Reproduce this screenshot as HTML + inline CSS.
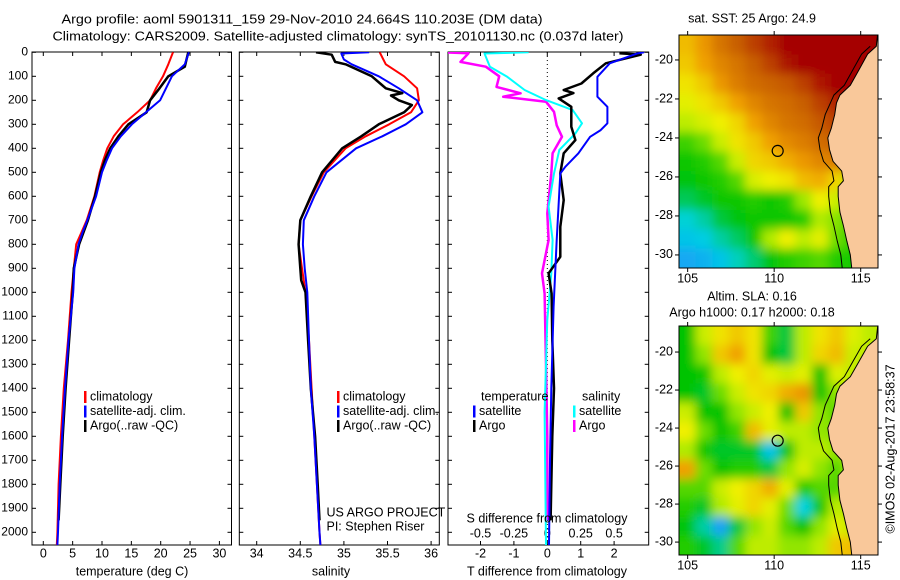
<!DOCTYPE html>
<html><head><meta charset="utf-8">
<style>
html,body{margin:0;padding:0;background:#fff;}
svg{display:block;font-family:"Liberation Sans",Arial,sans-serif;}
text{fill:#000;}
</style></head>
<body>
<svg id="fig" width="900" height="580" viewBox="0 0 900 580" xmlns="http://www.w3.org/2000/svg">
<defs>
<clipPath id="clipP1"><rect x="32" y="52" width="200" height="493"/></clipPath>
<clipPath id="clipP2"><rect x="239" y="52" width="200" height="493"/></clipPath>
<clipPath id="clipP3"><rect x="448" y="52" width="201" height="493"/></clipPath>
<clipPath id="clipM1"><rect x="679" y="35" width="199" height="233"/></clipPath>
<clipPath id="clipM2"><rect x="679" y="326" width="199" height="229"/></clipPath>
<filter id="blur" x="-10%" y="-10%" width="120%" height="120%"><feGaussianBlur stdDeviation="5"/></filter>
</defs>
<g id="root"></g>
</svg>
<script>
// ---------- profile data ----------
const tempDepthClim = [0,50,100,150,200,250,300,350,400,450,500,600,700,750,800,900,1000,1200,1400,1600,1800,2000,2053];
const tempClim      = [22.1,21.3,20.4,19.2,18.2,16,13.6,12,10.9,10.2,9.6,8.7,7.4,6.5,5.6,5.2,4.8,4.2,3.5,3.0,2.6,2.4,2.3];
const tempDepthSat  = [0,50,100,150,200,250,300,350,400,450,500,600,700,750,800,900,1000,1200,1400,1600,1800,2000,2053];
const tempSat       = [24.8,24.1,21.9,20.9,19.9,17.5,15.1,13.2,11.7,10.8,10,9,7.5,6.7,6,5.3,5.1,4.3,3.7,3.2,2.8,2.5,2.4];
const tempDepthArgo = [0,30,60,100,150,200,250,300,350,400,450,500,600,700,800,900,1000,1200,1400,1600,1800,1950];
const tempArgo      = [24.7,24.4,24.1,21.3,19.8,18.2,17.6,14.5,12.8,11.4,10.5,9.8,8.8,7.6,6.1,5.2,5.0,4.4,3.8,3.3,2.9,2.6];

const salDepthClim = [0,50,100,150,200,250,300,350,400,500,600,700,800,900,1000,1200,1400,1600,1800,2000,2053];
const salClim      = [35.41,35.48,35.69,35.84,35.86,35.77,35.52,35.25,35.02,34.77,34.63,34.5,34.48,34.52,34.56,34.6,34.63,34.66,34.69,34.72,34.73];
const salDepthSat  = [0,5,30,50,100,150,200,250,300,350,400,500,600,700,800,900,1000,1200,1400,1600,1800,2000,2053];
const salSat       = [35.29,34.97,35.0,35.09,35.4,35.63,35.84,35.9,35.71,35.44,35.14,34.8,34.66,34.54,34.53,34.55,34.58,34.6,34.62,34.66,34.69,34.72,34.73];
const salDepthArgo = [0,10,40,50,100,150,170,180,200,220,250,300,350,400,500,600,700,800,900,950,1000,1200,1400,1600,1800,1950];
const salArgo      = [34.68,34.86,34.9,35.02,35.32,35.48,35.67,35.54,35.63,35.78,35.69,35.4,35.2,34.98,34.75,34.62,34.5,34.48,34.5,34.51,34.56,34.59,34.62,34.67,34.7,34.72];

const dDepthTSat = [0,5,46,102,185,227,296,324,352,421,477,505,782,1060,1400,1700,2053];
const dTSat      = [2.9,2.69,1.87,1.5,1.5,1.8,1.8,1.6,1.28,0.93,0.54,0.39,0.28,0.19,0.12,0.08,0.05];
const dDepthTArgo = [4,10,46,88,130,157,170,192,227,310,366,421,505,616,727,852,921,1005,1200,1400,1600,1800,1950];
const dTArgo      = [2.16,2.8,1.75,1.37,1.02,0.49,0.78,0.34,0.72,0.72,0.84,0.49,0.39,0.49,0.39,0.39,0.04,0.13,0.15,0.2,0.15,0.12,0.1];
const dDepthSSat = [0,5,60,102,157,199,241,296,338,407,505,643,782,921,1115,1500,2053];
const dSSat      = [-0.14,-0.47,-0.43,-0.3,-0.17,-0.01,0.19,0.26,0.21,0.09,0.05,0.01,0.04,0.03,0.0,-0.02,-0.01];
const dDepthSArgo = [0,4,40,60,100,144,171,185,206,248,304,352,421,505,671,782,921,1005,1300,1600,1950];
const dSArgo      = [-0.77,-0.59,-0.65,-0.46,-0.36,-0.38,-0.2,-0.33,-0.01,0.05,0.07,0.11,0.04,0.03,0.0,0.01,-0.04,-0.02,-0.01,0.0,0.0];

const depthTicks = [0,100,200,300,400,500,600,700,800,900,1000,1100,1200,1300,1400,1500,1600,1700,1800,1900,2000];
const tempTicks = [0,5,10,15,20,25,30];
const salTicks = [34,34.5,35,35.5,36];
const salTickLabels = ["34","34.5","35","35.5","36"];
const dTTicks = [-2,-1,0,1,2];
const dSTicks = [-0.5,-0.25,0,0.25,0.5];
const dSTickLabels = ["-0.5","-0.25","0","0.25","0.5"];

// ---------- map data (rows = lat -19..-30, cols = lon 104.5..115.5) ----------
const mapLonTicks = [105,110,115];
const mapLatTicks = [-20,-22,-24,-26,-28,-30];
const sstGrid = [
[.66,.72,.80,.85,.90,.95,1,1,1,1,1,1],
[.64,.70,.76,.80,.85,.90,.97,1,1,1,1,1],
[.60,.64,.72,.78,.82,.84,.86,.90,.96,1,1,1],
[.56,.60,.64,.70,.76,.80,.82,.85,.90,.95,1,1],
[.50,.54,.58,.62,.70,.76,.80,.82,.86,.90,.95,1],
[.38,.42,.52,.60,.64,.70,.75,.78,.82,.85,.88,.90],
[.34,.36,.40,.52,.62,.64,.68,.72,.76,.78,.80,.80],
[.32,.34,.36,.40,.54,.58,.60,.66,.68,.62,.45,.45],
[.26,.30,.34,.34,.36,.34,.36,.46,.58,.52,.40,.40],
[.16,.20,.28,.32,.34,.34,.34,.36,.48,.44,.36,.36],
[.12,.14,.20,.25,.34,.48,.58,.50,.56,.42,.36,.36],
[.06,.08,.12,.18,.24,.32,.36,.38,.40,.36,.35,.35]];
const slaGrid = [
[.33,.52,.60,.64,.60,.38,.28,.50,.60,.64,.55,.50],
[.33,.45,.64,.70,.60,.33,.28,.50,.62,.66,.52,.50],
[.33,.34,.50,.58,.62,.56,.52,.56,.33,.55,.50,.50],
[.33,.30,.42,.52,.60,.62,.68,.72,.33,.45,.50,.50],
[.52,.33,.33,.45,.52,.58,.33,.64,.45,.40,.50,.50],
[.58,.42,.33,.38,.66,.56,.50,.50,.45,.44,.50,.50],
[.48,.34,.30,.30,.30,.12,.32,.50,.50,.45,.50,.50],
[.70,.42,.33,.36,.36,.28,.45,.54,.45,.40,.50,.50],
[.40,.40,.52,.58,.62,.68,.56,.36,.40,.40,.45,.50],
[.36,.30,.48,.56,.62,.56,.42,.15,.34,.50,.45,.50],
[.32,.20,.05,.28,.45,.52,.40,.33,.45,.56,.50,.50],
[.36,.30,.22,.40,.50,.50,.45,.45,.50,.64,.66,.50]];
const coastLon = [116,115.9,115.4,114.9,114.4,113.8,113.6,113.5,113.3,113.1,113.2,113.4,113.9,114.0,113.7,113.7,113.8,114.0,114.2,114.4,114.5,116];
const coastLat = [-18.5,-19.3,-19.7,-20.5,-21.3,-21.8,-22.2,-22.8,-23.5,-24.0,-24.6,-25.2,-25.7,-26.2,-26.5,-27.0,-27.8,-28.5,-29.3,-30.0,-30.8,-30.8];
const argoLon = 110.203, argoLat = -24.664;

// ---------- helpers ----------
const NS = "http://www.w3.org/2000/svg";
const root = document.getElementById('root');
function mk(tag, attrs, parent){
  const e = document.createElementNS(NS, tag);
  for (const k in attrs) e.setAttribute(k, attrs[k]);
  (parent||root).appendChild(e);
  return e;
}
function txt(x,y,s,anchor,size,parent){
  const t = mk('text',{x:x,y:y,'text-anchor':anchor||'start','font-size':size||12,'dominant-baseline':'middle'},parent);
  t.textContent = s;
  return t;
}
const Y0 = 52.3, YS = 0.24, PB = 545;
const yDepth = d => Y0 + d*YS;
const xTemp = t => 43.3 + t*5.87;
const xSal = s => 256.7 + (s-34)*87.2;
const xDT = t => 547.3 + t*33.4;
const xDS = s => 547.3 + s*133.6;

function profile(g, depths, vals, xf, color, w, name){
  let d = '';
  for (let i=0;i<depths.length;i++){
    d += (i? 'L':'M') + xf(vals[i]).toFixed(1) + ' ' + yDepth(depths[i]).toFixed(1);
  }
  const p = mk('path',{d:d,fill:'none',stroke:color,'stroke-width':w,'stroke-linejoin':'round'},g);
  
  
  return p;
}

function panel(x0,x1,name){
  const g = mk('g',{});
  
  
  mk('rect',{x:x0,y:52,width:x1-x0,height:PB-52,fill:'none',stroke:'#000','stroke-width':1},g);
  depthTicks.forEach(d=>{
    const y = yDepth(d);
    mk('line',{x1:x0,x2:x0+4,y1:y,y2:y,stroke:'#000'},g);
    mk('line',{x1:x1-4,x2:x1,y1:y,y2:y,stroke:'#000'},g);
  });
  return g;
}

// ---------- titles ----------
const t1 = txt(302,20,"Argo profile: aoml 5901311_159 29-Nov-2010 24.664S 110.203E (DM data)","middle",13);
t1.setAttribute('textLength','481'); t1.setAttribute('lengthAdjust','spacingAndGlyphs');
 
const t2 = txt(338,37,"Climatology: CARS2009. Satellite-adjusted climatology: synTS_20101130.nc (0.037d later)","middle",13);
t2.setAttribute('textLength','571'); t2.setAttribute('lengthAdjust','spacingAndGlyphs');
 

// ---------- depth axis labels ----------
depthTicks.forEach(d=>{
  const t = txt(28,yDepth(d),String(d),'end',12);
   
});

// ---------- panel 1: temperature ----------
const g1 = panel(32,231.5,'temperature-panel');
tempTicks.forEach(v=>{
  const x = xTemp(v);
  mk('line',{x1:x,x2:x,y1:52,y2:56,stroke:'#000'},g1);
  mk('line',{x1:x,x2:x,y1:PB-4,y2:PB,stroke:'#000'},g1);
  const t = txt(x,554,String(v),'middle',12.5,g1);
   
});
const tl1 = txt(132,572,"temperature (deg C)",'middle',12.5,g1);
 
const c1 = mk('g',{'clip-path':'url(#clipP1)'},g1);
profile(c1,tempDepthClim,tempClim,xTemp,'#ff0000',2,'temperature-climatology-line');
profile(c1,tempDepthArgo,tempArgo,xTemp,'#000000',2.5,'temperature-argo-line');
profile(c1,tempDepthSat,tempSat,xTemp,'#0000ff',2,'temperature-satellite-line');

function legend(g,x,y,labels,colors,nm){
  labels.forEach((l,i)=>{
    const yy = y + i*14.5;
    mk('rect',{x:x,y:yy-6,width:2.5,height:12,fill:colors[i]},g);
    const t = txt(x+6,yy,l,'start',12.5,g);
    
    
  });
}
legend(g1,84,397,["climatology","satellite-adj. clim.","Argo(..raw -QC)"],['#ff0000','#0000ff','#000'],'temperature-legend');

// ---------- panel 2: salinity ----------
const g2 = panel(239.3,439.3,'salinity-panel');
salTicks.forEach((v,i)=>{
  const x = xSal(v);
  mk('line',{x1:x,x2:x,y1:52,y2:56,stroke:'#000'},g2);
  mk('line',{x1:x,x2:x,y1:PB-4,y2:PB,stroke:'#000'},g2);
  const t = txt(x,554,salTickLabels[i],'middle',12.5,g2);
   
});
const tl2 = txt(331,572,"salinity",'middle',12.5,g2);
 
const c2 = mk('g',{'clip-path':'url(#clipP2)'},g2);
profile(c2,salDepthClim,salClim,xSal,'#ff0000',2,'salinity-climatology-line');
profile(c2,salDepthArgo,salArgo,xSal,'#000000',2.5,'salinity-argo-line');
profile(c2,salDepthSat,salSat,xSal,'#0000ff',2,'salinity-satellite-line');
legend(g2,337,397,["climatology","satellite-adj. clim.","Argo(..raw -QC)"],['#ff0000','#0000ff','#000'],'salinity-legend');
const us1 = txt(326.5,513,"US ARGO PROJECT",'start',12.5,g2);
 
const us2 = txt(326.5,527,"PI: Stephen Riser",'start',12.5,g2);
 

// ---------- panel 3: differences ----------
const g3 = panel(448,648.7,'difference-panel');
dTTicks.forEach(v=>{
  const x = xDT(v);
  mk('line',{x1:x,x2:x,y1:52,y2:56,stroke:'#000'},g3);
  mk('line',{x1:x,x2:x,y1:PB-4,y2:PB,stroke:'#000'},g3);
  const t = txt(x,554,String(v),'middle',12.5,g3);
   
});
dSTicks.forEach((v,i)=>{
  const t = txt(xDS(v),534,dSTickLabels[i],'middle',12.5,g3);
   
});
const tl3 = txt(547,572,"T difference from climatology",'middle',12.5,g3);
 
mk('line',{x1:xDT(0),x2:xDT(0),y1:52,y2:PB,stroke:'#000','stroke-dasharray':'1,3'},g3);
const c3 = mk('g',{'clip-path':'url(#clipP3)'},g3);
profile(c3,dDepthSArgo,dSArgo,xDS,'#ff00ff',2.5,'s-diff-argo-line');
profile(c3,dDepthSSat,dSSat,xDS,'#00ffff',2,'s-diff-satellite-line');
profile(c3,dDepthTArgo,dTArgo,xDT,'#000000',2.5,'t-diff-argo-line');
profile(c3,dDepthTSat,dTSat,xDT,'#0000ff',2,'t-diff-satellite-line');
const tl4 = txt(547,519,"S difference from climatology",'middle',12.5,g3);
 
const lt = txt(481,397,"temperature",'start',12.5,g3);
 
const ls = txt(582,397,"salinity",'start',12.5,g3);
 
legend(g3,473,411.5,["satellite","Argo"],['#0000ff','#000'],'t-diff-legend');
legend(g3,573,411.5,["satellite","Argo"],['#00ffff','#ff00ff'],'s-diff-legend');

// ---------- maps ----------
function cmapSST(v){
  const stops=[[0,[30,140,255]],[0.15,[0,210,225]],[0.33,[0,195,0]],[0.47,[170,235,0]],[0.58,[240,240,0]],[0.7,[240,160,0]],[0.85,[200,95,0]],[1,[165,0,0]]];
  for(let i=1;i<stops.length;i++){ if(v<=stops[i][0]){ const a=stops[i-1],b=stops[i],f=(v-a[0])/(b[0]-a[0]); return 'rgb('+a[1].map((c,j)=>Math.round(c+(b[1][j]-c)*f)).join(',')+')'; } }
  return 'rgb(165,0,0)';
}
function drawMap(mx0,mx1,my0,my1,latTop,latBot,grid,name,clip){
  const g = mk('g',{});
  
  
  const lonL=104.5, lonR=116.0;
  const X = lon => mx0 + (lon-lonL)/(lonR-lonL)*(mx1-mx0);
  const Y = lat => my0 + (latTop-lat)/(latTop-latBot)*(my1-my0);
  const cg = mk('g',{'clip-path':'url(#'+clip+')'},g);
  const hg = mk('g',{filter:'url(#blur)'},cg);
  const rows=grid.length, cols=grid[0].length;
  const lonStep=(lonR-lonL)/cols, latStep=(latTop-latBot)/rows;
  for(let r=-2;r<=rows+1;r++){ for(let c=-2;c<=cols+1;c++){
    const rr=Math.min(rows-1,Math.max(0,r)), cc=Math.min(cols-1,Math.max(0,c));
    const x=X(lonL+c*lonStep), y=Y(latTop-r*latStep);
    const cell = mk('rect',{x:x.toFixed(1),y:y.toFixed(1),width:((mx1-mx0)/cols+0.8).toFixed(1),height:((my1-my0)/rows+0.8).toFixed(1),fill:cmapSST(grid[rr][cc])},hg);
    
    
  }}
  let d='';
  coastLon.forEach((lo,i)=>{ d+=(i?'L':'M')+X(lo).toFixed(1)+' '+Y(coastLat[i]).toFixed(1); });
  const land = mk('path',{d:d+'Z',fill:'#f9c89a',stroke:'#000','stroke-width':1},cg);
   
  let d2='';
  coastLon.slice(1,-1).forEach((lo,i)=>{ const la=coastLat[i+1]; const off = la>-22.5?0.35:0.55; d2+=(i?'L':'M')+X(lo-off).toFixed(1)+' '+Y(la).toFixed(1); });
  const iso = mk('path',{d:d2,fill:'none',stroke:'#000','stroke-width':1},cg);
   
  const mark = mk('circle',{cx:X(argoLon),cy:Y(argoLat),r:5.5,fill:'none',stroke:'#000','stroke-width':1.2},g);
   
  mk('rect',{x:mx0,y:my0,width:mx1-mx0,height:my1-my0,fill:'none',stroke:'#000'},g);
  mapLonTicks.forEach(lo=>{
    const x=X(lo);
    mk('line',{x1:x,x2:x,y1:my0-4,y2:my0,stroke:'#000'},g);
    mk('line',{x1:x,x2:x,y1:my1,y2:my1+4,stroke:'#000'},g);
    const t=txt(x,my1+11,String(lo),'middle',12.5,g);
     
  });
  mapLatTicks.forEach(la=>{
    const y=Y(la);
    mk('line',{x1:mx0-4,x2:mx0,y1:y,y2:y,stroke:'#000'},g);
    mk('line',{x1:mx1,x2:mx1+4,y1:y,y2:y,stroke:'#000'},g);
    const t=txt(mx0-6,y,String(la),'end',12.5,g);
     
  });
  return g;
}
drawMap(679,878,35,268,-18.72,-30.67,sstGrid,'sst-map','clipM1');
drawMap(679,878,326,555,-18.63,-30.68,slaGrid,'sla-map','clipM2');
const mt1 = txt(752,19,"sat. SST: 25 Argo: 24.9",'middle',12.5);
 
const mt2 = txt(752,297,"Altim. SLA: 0.16",'middle',12.5);
 
const mt3 = txt(752,313,"Argo h1000: 0.17 h2000: 0.18",'middle',12.5);
 
const cp = txt(0,0,"\u00a9IMOS 02-Aug-2017 23:58:37",'middle',12.5);
cp.setAttribute('transform','translate(891,449) rotate(-90)');
 
</script>
</body></html>
